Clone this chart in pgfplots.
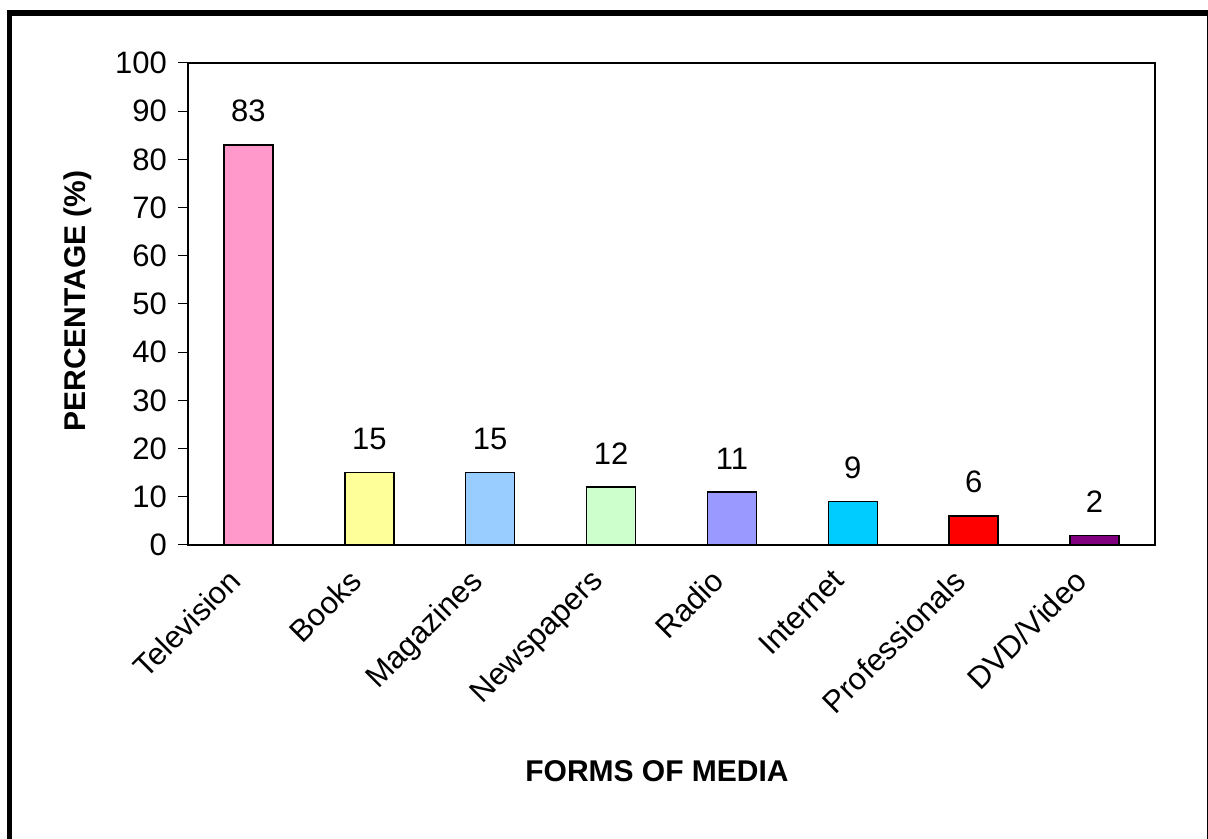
\documentclass[border=0pt]{standalone}
\usepackage{pgfplots}
\pgfplotsset{compat=1.18}
\usepackage{fontspec}
\setmainfont{Liberation Sans}

\definecolor{cTV}{HTML}{FF99CC}
\definecolor{cBooks}{HTML}{FFFF99}
\definecolor{cMag}{HTML}{99CCFF}
\definecolor{cNews}{HTML}{CCFFCC}
\definecolor{cRadio}{HTML}{9999FF}
\definecolor{cNet}{HTML}{00CCFF}
\definecolor{cPro}{HTML}{FF0000}
\definecolor{cDVD}{HTML}{800080}

\begin{document}
\begin{tikzpicture}
\useasboundingbox (0,0) rectangle (604pt,419.5pt);
% outer frame (cropped at bottom)
\draw[line width=2.75pt, line join=miter] (4.75pt,0) -- (4.75pt,413pt) -- (604pt,413pt);
\draw[line width=0.6pt] (603.7pt,0) -- (603.7pt,413pt);

\begin{axis}[
    at={(94pt,147pt)}, anchor=south west,
    scale only axis,
    width=483.5pt, height=241pt,
    axis line style={line width=0.75pt},
    ybar, bar width=24.5pt,
    xmin=-0.5, xmax=7.5,
    ymin=0, ymax=100,
    ytick={0,10,...,100},
    xtick={0,...,7},
    xticklabels={Television,Books,Magazines,Newspapers,Radio,Internet,Professionals,DVD/Video},
    extra x ticks={-0.5,0.5,...,7.5},
    extra x tick labels={},
    extra x tick style={major tick length=4.5pt, tick style={line width=0.5pt, black}},
    x tick style={draw=none},
    y tick style={line width=0.5pt, black},
    tick align=outside,
    major tick length=5pt,
    xtick pos=bottom, ytick pos=left,
    /pgf/number format/assume math mode=true,
    tick label style={font=\fontsize{15.5}{18}\selectfont},
    yticklabel style={xshift=-2pt},
    xticklabel style={anchor=north east, inner sep=0pt, xshift=-11pt, yshift=-6pt, rotate=45},
    xlabel={\textbf{FORMS OF MEDIA}},
    ylabel={\textbf{PERCENTAGE (\%)}},
    label style={font=\fontsize{15}{18}\selectfont},
    xlabel style={at={(axis description cs:0.485,-0.469)}, anchor=center},
    ylabel style={at={(axis description cs:-0.114,0.506)}, anchor=center},
    nodes near coords,
    every node near coord/.append style={font=\fontsize{15.5}{18}\selectfont, anchor=south, inner sep=0pt, yshift=11pt},
    every axis plot/.append style={bar shift=0pt, draw=black, line width=0.8pt},
]
\addplot[fill=cTV] coordinates {(0,83)};
\addplot[fill=cBooks] coordinates {(1,15)};
\addplot[fill=cMag] coordinates {(2,15)};
\addplot[fill=cNews] coordinates {(3,12)};
\addplot[fill=cRadio] coordinates {(4,11)};
\addplot[fill=cNet] coordinates {(5,9)};
\addplot[fill=cPro] coordinates {(6,6)};
\addplot[fill=cDVD] coordinates {(7,2)};
\end{axis}
\end{tikzpicture}
\end{document}
